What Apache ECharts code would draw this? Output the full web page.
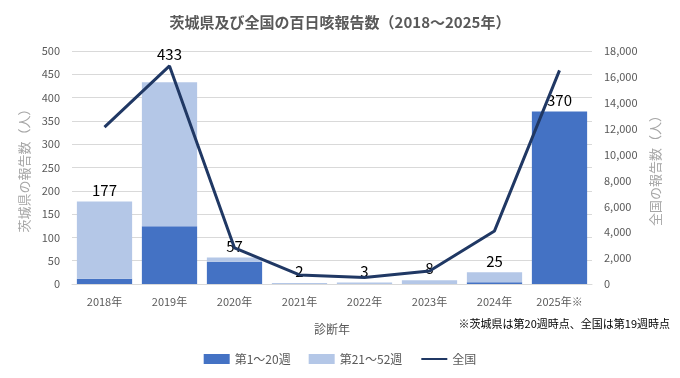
<!DOCTYPE html>
<html>
<head>
<meta charset="utf-8">
<script src="https://cdn.jsdelivr.net/npm/echarts@6/dist/echarts.min.js"></script>
<style>
  html, body { margin: 0; padding: 0; background: #fff; }
  #chart { width: 680px; height: 378px; }
</style>
</head>
<body>
<div id="chart"></div>
<script>
// 診断年
const years = ['2018年', '2019年', '2020年', '2021年', '2022年', '2023年', '2024年', '2025年※']
// 茨城県 第1～20週
const weeks1to20 = [11, 124, 48, 0, 0, 0, 4, 370]
// 茨城県 第21～52週
const weeks21to52 = [166, 309, 9, 2, 3, 8, 21, 0]
// 全国
const national = [12115, 16845, 2790, 700, 500, 1000, 4100, 16500]

const totals = weeks1to20.map((v, i) => v + weeks21to52[i])

const font = '"Noto Sans CJK JP", "Noto Sans", sans-serif'
const gray = '#595959'

const chart = echarts.init(document.getElementById('chart'))

const option = {
  animation: false,
  textStyle: { fontFamily: font },
  title: {
    text: '茨城県及び全国の百日咳報告数（2018～2025年）',
    left: 'center',
    top: 10,
    textStyle: { fontSize: 15, fontWeight: 'bold', color: gray, fontFamily: font }
  },
  legend: {
    bottom: 8,
    left: 'center',
    itemWidth: 26,
    itemHeight: 10,
    itemGap: 18,
    textStyle: { fontSize: 12, color: gray, fontFamily: font },
    data: [
      { name: '第1～20週', icon: 'rect' },
      { name: '第21～52週', icon: 'rect' },
      { name: '全国', itemStyle: { opacity: 0 } }
    ]
  },
  graphic: [
    {
      type: 'text',
      right: 10,
      top: 318,
      style: { text: '※茨城県は第20週時点、全国は第19週時点', fontSize: 11, fill: '#000', fontFamily: font }
    }
  ],
  grid: { left: 72, right: 88, top: 51, bottom: 94 },
  xAxis: {
    type: 'category',
    data: years,
    name: '診断年',
    nameLocation: 'middle',
    nameGap: 39,
    nameTextStyle: { fontSize: 12, color: gray },
    axisTick: { show: false },
    axisLine: { lineStyle: { color: '#D9D9D9' } },
    axisLabel: { fontSize: 11, color: gray, margin: 12 }
  },
  yAxis: [
    {
      type: 'value',
      min: 0,
      max: 500,
      interval: 50,
      name: '茨城県の報告数（人）',
      nameLocation: 'middle',
      nameRotate: 90,
      nameGap: 35,
      nameTextStyle: { fontSize: 13, color: '#A6A6A6' },
      axisLabel: { fontSize: 11, color: gray, margin: 12 },
      splitLine: { lineStyle: { color: '#D9D9D9' } }
    },
    {
      type: 'value',
      min: 0,
      max: 18000,
      interval: 2000,
      name: '全国の報告数（人）',
      nameLocation: 'middle',
      nameRotate: 90,
      nameGap: 47,
      nameTextStyle: { fontSize: 13, color: '#A6A6A6' },
      axisLabel: {
        fontSize: 11,
        color: gray,
        margin: 12,
        formatter: v => v.toLocaleString('en-US')
      },
      splitLine: { show: false }
    }
  ],
  series: [
    {
      name: '第1～20週',
      type: 'bar',
      stack: 'ibaraki',
      barCategoryGap: '15%',
      itemStyle: { color: '#4472C4' },
      data: weeks1to20
    },
    {
      name: '第21～52週',
      type: 'bar',
      stack: 'ibaraki',
      itemStyle: { color: '#B4C7E7' },
      label: {
        show: true,
        position: 'top',
        distance: 4,
        fontSize: 15,
        color: '#000',
        fontFamily: font,
        formatter: p => totals[p.dataIndex]
      },
      data: weeks21to52.map((v, i) => i === 1
        ? { value: v, label: { offset: [0, -16] } }
        : v)
    },
    {
      name: '全国',
      type: 'line',
      yAxisIndex: 1,
      symbol: 'none',
      lineStyle: { color: '#203864', width: 3 },
      itemStyle: { color: '#203864' },
      z: 3,
      data: national
    }
  ]
}

chart.setOption(option)
</script>
</body>
</html>
